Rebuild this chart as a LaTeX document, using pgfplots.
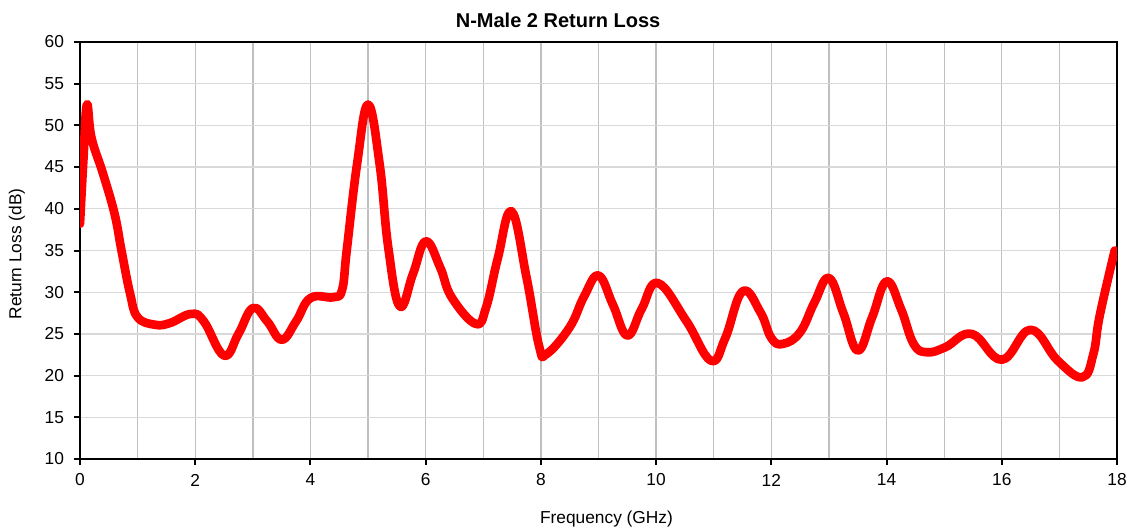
\documentclass[border=0pt]{standalone}
\usepackage{pgfplots}
\pgfplotsset{compat=1.18}
\usepackage{fontspec}
\setmainfont{Liberation Sans}

\definecolor{gridv}{RGB}{191,191,191}
\definecolor{gridh}{RGB}{217,217,217}

\begin{document}
\begin{tikzpicture}
\useasboundingbox (0,0) rectangle (847.5pt,396.75pt);
\begin{axis}[%
    ,at={(60pt,52.5pt)},anchor=south west
    ,scale only axis,width=777.75pt,height=312.75pt
    ,xmin=0,xmax=18,ymin=10,ymax=60
    ,xtick={0,2,...,18},ytick={10,15,...,60}
    ,minor x tick num=1
    ,minor tick length=0pt
    ,major tick length=4.5pt
    ,tick pos=left
    ,tick align=outside
    ,every tick/.style={black,line width=1.5pt}
    ,axis line style={black,line width=1.5pt}
    ,xmajorgrids,xminorgrids,ymajorgrids
    ,x grid style={gridv,line width=1pt}
    ,y grid style={gridh,line width=1pt}
    ,font=\fontsize{13}{15}\selectfont
    ,/pgf/number format/assume math mode=true
    ,xticklabel style={anchor=center,yshift=-11.25pt,inner sep=0pt}
    ,yticklabel style={anchor=east,xshift=-7.3pt,inner sep=0pt}
    ,title={\fontsize{15}{17}\selectfont\bfseries N-Male 2 Return Loss}
    ,title style={at={(axis description cs:0.461,1)},anchor=center,yshift=10.5pt}
    ,xlabel={Frequency (GHz)}
    ,xlabel style={at={(axis description cs:0.5077,0)},anchor=center,yshift=-45pt}
    ,ylabel={Return Loss (dB)}
    ,ylabel style={at={(axis description cs:-0.0608,0.4917)},anchor=center}
    ]
\addplot[red,line width=6.5pt,smooth,tension=0.7,no marks,line join=round,line cap=round] coordinates {
 (0,38.2) (0.06,46) (0.12,52.5) (0.2,48.5) (0.4,44.2) (0.6,39.4) (0.72,35)
 (0.87,29.8) (1.0,27.0) (1.3,26.1) (1.56,26.3) (1.93,27.4) (2.15,26.5)
 (2.5,22.4) (2.75,25) (3.0,28.1) (3.25,26.5) (3.5,24.3) (3.75,26.5)
 (4.0,29.3) (4.4,29.4) (4.55,30.3) (4.63,35) (4.81,45.4) (5.0,52.5)
 (5.2,45.4) (5.35,35.4) (5.55,28.3) (5.78,32.2) (6.0,36.1) (6.25,33)
 (6.45,29.4) (6.87,26.2) (7.05,28.2) (7.25,34) (7.49,39.7) (7.75,31.8)
 (7.97,23.5) (8.1,22.6) (8.5,25.8) (8.75,29.5) (9.0,32.0) (9.25,28.5)
 (9.5,24.8) (9.75,28) (10.03,31.1) (10.52,26.6) (10.95,21.8) (11.2,24.5)
 (11.5,30.1) (11.81,27.6) (12.0,24.5) (12.2,23.8) (12.5,25.2) (12.75,28.8)
 (13.0,31.7) (13.25,27.5) (13.5,23) (13.75,27) (14.0,31.3) (14.25,28)
 (14.47,23.8) (14.7,22.8) (15.02,23.4) (15.48,25) (16.0,21.9) (16.5,25.5)
 (16.97,21.8) (17.4,19.8) (17.59,22.6) (17.7,27.2) (17.96,35)
};
\end{axis}
\end{tikzpicture}
\end{document}
